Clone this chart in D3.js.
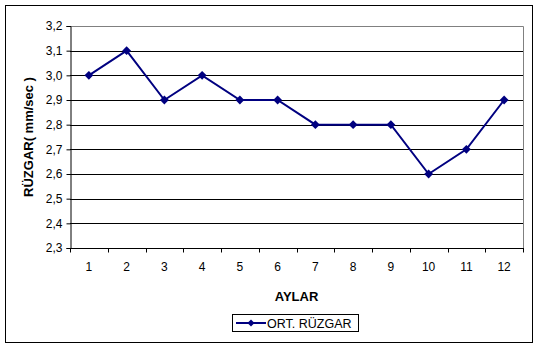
<!DOCTYPE html>
<html>
<head>
<meta charset="utf-8">
<script src="https://cdn.jsdelivr.net/npm/d3@7/dist/d3.min.js"></script>
<style>
  body { margin: 0; background: #fff; }
  svg { display: block; font-family: "Liberation Sans", Arial, sans-serif; }
</style>
</head>
<body>
<svg id="chart" width="539" height="348"></svg>
<script>
// chart data
var months = [1, 2, 3, 4, 5, 6, 7, 8, 9, 10, 11, 12];
var wind = [3.0, 3.1, 2.9, 3.0, 2.9, 2.9, 2.8, 2.8, 2.8, 2.6, 2.7, 2.9];
var yTicks = [2.3, 2.4, 2.5, 2.6, 2.7, 2.8, 2.9, 3.0, 3.1, 3.2];
var seriesName = 'ORT. RÜZGAR';
var xTitle = 'AYLAR';
var yTitle = 'RÜZGAR( mm/sec )';

var svg = d3.select('#chart');
var plot = {left: 70, top: 26, right: 523, bottom: 248};
var navy = '#000080';

// outer frame
svg.append('rect')
  .attr('x', 5.5).attr('y', 5.5)
  .attr('width', 527).attr('height', 337)
  .attr('fill', '#fff').attr('stroke', '#000');

var x = d3.scaleBand().domain(months).range([plot.left, plot.right]);
var y = d3.scaleLinear().domain([2.3, 3.2]).range([plot.bottom, plot.top]);
var fmt = function(d) { return d3.format('.1f')(d).replace('.', ','); };

// gridlines
svg.append('g')
  .selectAll('line')
  .data(yTicks.slice(1, -1))
  .enter().append('line')
  .attr('x1', plot.left).attr('x2', plot.right)
  .attr('y1', function(d) { return Math.round(y(d)) + 0.5; })
  .attr('y2', function(d) { return Math.round(y(d)) + 0.5; })
  .attr('stroke', '#000');

// plot border top/right (gray)
svg.append('path')
  .attr('d', 'M' + plot.left + ',' + (plot.top + 0.5) + 'H' + (plot.right + 0.5) + 'V' + plot.bottom)
  .attr('fill', 'none').attr('stroke', '#808080');

// y axis
var yAxis = svg.append('g')
  .attr('transform', 'translate(' + (plot.left + 0.5) + ',0)')
  .call(d3.axisLeft(y).tickValues(yTicks).tickFormat(fmt).tickSize(4).tickPadding(4));
yAxis.select('.domain').attr('stroke', '#000');
yAxis.selectAll('.tick line').attr('stroke', '#000');
yAxis.selectAll('text').attr('font-size', 12).attr('fill', '#000')
  .attr('font-family', '"Liberation Sans", Arial, sans-serif');

// x axis with ticks at band edges
var xAxis = svg.append('g')
  .attr('transform', 'translate(0,' + (plot.bottom + 0.5) + ')');
xAxis.append('line')
  .attr('x1', plot.left).attr('x2', plot.right + 1)
  .attr('stroke', '#000');
var edges = months.map(function(m) { return x(m); }).concat([plot.right]);
xAxis.selectAll('.xt')
  .data(edges)
  .enter().append('line')
  .attr('class', 'xt')
  .attr('x1', function(d) { return Math.round(d) + 0.5; })
  .attr('x2', function(d) { return Math.round(d) + 0.5; })
  .attr('y1', 0).attr('y2', 4)
  .attr('stroke', '#000');
xAxis.selectAll('text')
  .data(months)
  .enter().append('text')
  .attr('x', function(d) { return x(d) + x.bandwidth() / 2; })
  .attr('y', 22)
  .attr('text-anchor', 'middle')
  .attr('font-size', 12)
  .text(function(d) { return d; });

// axis titles
svg.append('text')
  .attr('x', (plot.left + plot.right) / 2)
  .attr('y', 301)
  .attr('text-anchor', 'middle')
  .attr('font-size', 13).attr('font-weight', 'bold')
  .text(xTitle);
svg.append('text')
  .attr('transform', 'translate(33,' + ((plot.top + plot.bottom) / 2) + ') rotate(-90)')
  .attr('text-anchor', 'middle')
  .attr('font-size', 13).attr('font-weight', 'bold')
  .text(yTitle);

// series line
var line = d3.line()
  .x(function(d, i) { return x(months[i]) + x.bandwidth() / 2; })
  .y(function(d) { return y(d); });
svg.append('path')
  .datum(wind)
  .attr('d', line)
  .attr('fill', 'none')
  .attr('stroke', navy)
  .attr('stroke-width', 2);

var diamond = d3.symbol().type(d3.symbolDiamond2).size(50);
svg.append('g')
  .selectAll('path')
  .data(wind)
  .enter().append('path')
  .attr('transform', function(d, i) {
    return 'translate(' + (x(months[i]) + x.bandwidth() / 2) + ',' + y(d) + ')';
  })
  .attr('d', diamond)
  .attr('fill', navy);

// legend
var lg = svg.append('g').attr('transform', 'translate(232,314)');
lg.append('rect')
  .attr('x', 0.5).attr('y', 0.5)
  .attr('width', 126).attr('height', 17)
  .attr('fill', '#fff').attr('stroke', '#000');
lg.append('line')
  .attr('x1', 4).attr('x2', 34).attr('y1', 9).attr('y2', 9)
  .attr('stroke', navy).attr('stroke-width', 2);
lg.append('path')
  .attr('transform', 'translate(19,9)')
  .attr('d', d3.symbol().type(d3.symbolDiamond2).size(32))
  .attr('fill', navy);
lg.append('text')
  .attr('x', 35).attr('y', 13.5)
  .attr('font-size', 12.5)
  .text(seriesName);
</script>
</body>
</html>
